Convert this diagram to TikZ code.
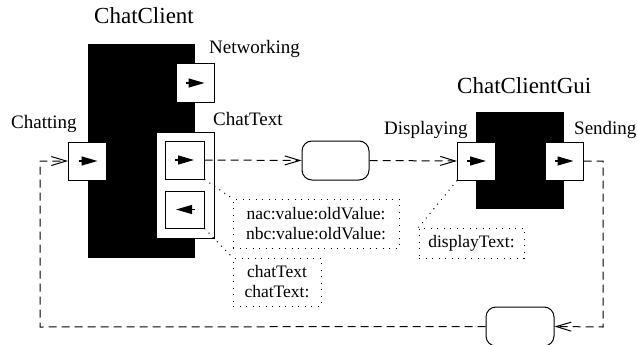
\documentclass[tikz,border=0pt]{standalone}
\usepackage{fontspec}
\setmainfont{Liberation Serif}
\usetikzlibrary{arrows.meta}
\newcommand\myttlfont{\fontsize{23}{27}\selectfont}
\newcommand\mylblfont{\fontsize{19}{22}\selectfont}
\newcommand\mynotefont{\fontsize{17.5}{20}\selectfont}
\begin{document}
\begin{tikzpicture}[x=1pt,y=-1pt,
  blackbox/.style={fill=black,inner sep=0},
  port/.style={draw,fill=white,line width=1pt,minimum width=38pt,minimum height=38pt,inner sep=0},
  rbox/.style={draw,rounded corners=10pt,minimum width=67pt,minimum height=39pt,inner sep=0,line width=1pt},
  note/.style={draw,dash pattern=on 1pt off 5.5pt,line width=1pt,inner sep=0,align=center,font=\mynotefont},
  flow/.style={dash pattern=on 8pt off 5pt,line width=1pt,-{Straight Barb[length=15pt,width=9pt,line width=1pt]}},
  link/.style={dash pattern=on 1pt off 5pt,line width=1pt},
  inarrow/.style={-{Triangle[length=16pt,width=9pt]},line width=1.2pt},
  lbl/.style={anchor=base west,inner sep=0,font=\mylblfont},
  ttl/.style={anchor=base west,inner sep=0,font=\myttlfont}]
\useasboundingbox (0,0) rectangle (637,345);
% components
\node[blackbox,minimum width=107pt,minimum height=214pt] (cc) at (141.5,151) {};
\node[blackbox,minimum width=88pt,minimum height=97pt] (gui) at (520,160.5) {};
% ChatText composite port
\node[draw,fill=white,line width=1pt,minimum width=58pt,minimum height=106pt,inner sep=0] (ct) at (185,185) {};
\node[port,minimum width=39pt] (ct1) at (184.5,160) {};
\node[port,minimum width=39pt,minimum height=37pt] (ct2) at (184.5,209.5) {};
% simple ports
\node[port] (net) at (195.5,83) {};
\node[port] (chat) at (87.5,161) {};
\node[port] (disp) at (476.5,161) {};
\node[port] (send) at (564,161) {};
% port arrows
\draw[inarrow] ([xshift=-10pt]net.center) -- ([xshift=9pt]net.center);
\draw[inarrow] ([xshift=-9pt]chat.center) -- ([xshift=10pt]chat.center);
\draw[inarrow] ([xshift=-9.5pt]ct1.center) -- ([xshift=9.5pt]ct1.center);
\draw[inarrow] ([xshift=10.5pt]ct2.center) -- ([xshift=-8.5pt]ct2.center);
\draw[inarrow] ([xshift=-9.5pt]disp.center) -- ([xshift=9.5pt]disp.center);
\draw[inarrow] ([xshift=-9.5pt]send.center) -- ([xshift=9.5pt]send.center);
% connectors (rounded boxes)
\node[rbox] (rb1) at (335.5,160.5) {};
\node[rbox,minimum width=68pt] (rb2) at (520,326.5) {};
% labels
\node[ttl] (tcc) at (94,24) {ChatClient};
\node[ttl] (tgui) at (457,93) {ChatClientGui};
\node[lbl] (tnet) at (209,54) {Networking};
\node[lbl] (tchat) at (11,128) {Chatting};
\node[lbl] (tct) at (213,125) {ChatText};
\node[lbl] (tdisp) at (384,134) {Displaying};
\node[lbl] (tsend) at (574,134) {Sending};
% notes
\node[note,minimum width=166pt,minimum height=49pt] (n1) at (316,223.5) {nac:value:oldValue:\\nbc:value:oldValue:};
\node[note,minimum width=88pt,minimum height=48pt] (n2) at (277,282) {chatText\\chatText:};
\node[note,minimum width=105pt,minimum height=30pt] (n3) at (471.5,243) {displayText:};
\draw[link] (ct1.south east) -- (n1.north west);
\draw[link] (ct2.south east) -- (n2.north west);
\draw[link] (disp.south west) -- (n3.north west);
% flows
\coordinate (c1) at (603,327);
\coordinate (c2) at (40,327);
\draw[flow] (ct1.east) -- (rb1.west);
\draw[flow] (rb1.east) -- (disp.west);
\draw[flow] (send.east) -| (c1) -- (rb2.east);
\draw[flow] (rb2.west) -- (c2) |- (chat.west);
\end{tikzpicture}
\end{document}
